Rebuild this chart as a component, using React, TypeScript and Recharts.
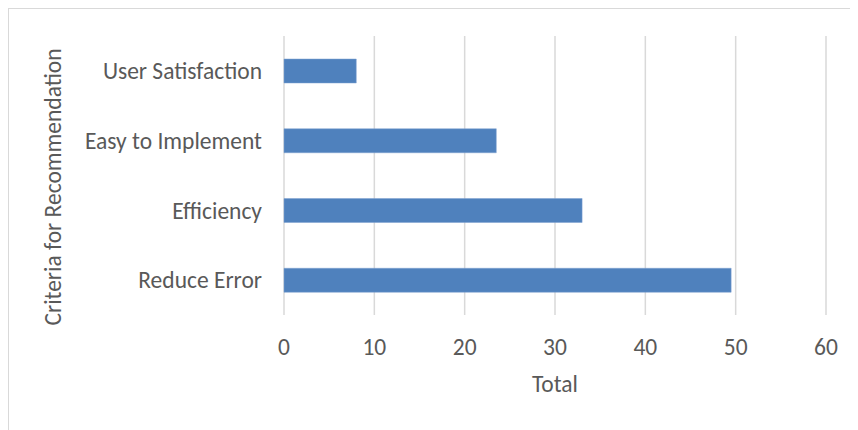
import React from 'react';
import { BarChart, Bar, XAxis, YAxis, CartesianGrid, Label } from 'recharts';

const categories: string[] = ['User Satisfaction', 'Easy to Implement', 'Efficiency', 'Reduce Error'];
const totals: number[] = [8, 23.5, 33, 49.5];
const xTicks: number[] = [0, 10, 20, 30, 40, 50, 60];
const xTitle = 'Total';
const yTitle = 'Criteria for Recommendation';

const data = categories.map((name, i) => ({ name, total: totals[i] }));

const FONT = 'Carlito, Calibri, Lato, sans-serif';
const TEXT = '#595959';
const FS = 23.5;

export default function App() {
  return (
    <div style={{ position: 'relative', width: 850, height: 422 }}>
      <div
        style={{
          position: 'absolute',
          left: -1,
          top: -1,
          width: 851,
          height: 423,
          borderLeft: '2px solid #d9d9d9',
          borderTop: '2px solid #d9d9d9',
          boxSizing: 'border-box',
          pointerEvents: 'none',
        }}
      />
      <BarChart
        width={850}
        height={422}
        data={data}
        layout="vertical"
        margin={{ top: 28, right: 32, left: 0, bottom: 0 }}
        style={{ fontFamily: FONT }}
      >
        <CartesianGrid horizontal={false} vertical={true} stroke="#d9d9d9" strokeWidth={1.5} />
        <XAxis
          type="number"
          domain={[0, 60]}
          ticks={xTicks}
          axisLine={false}
          tickLine={false}
          tickSize={0}
          tickMargin={23}
          height={115}
          interval={0}
          tick={{ fill: TEXT, fontSize: FS, fontFamily: FONT }}
        >
          <Label
            content={() => (
              <text
                x={547}
                y={376}
                textAnchor="middle"
                dominantBaseline="central"
                fill={TEXT}
                fontSize={FS}
                fontFamily={FONT}
              >
                {xTitle}
              </text>
            )}
          />
        </XAxis>
        <YAxis
          type="category"
          dataKey="name"
          width={276}
          axisLine={false}
          tickLine={false}
          tickSize={0}
          tickMargin={22}
          interval={0}
          tick={{ fill: TEXT, fontSize: FS, fontFamily: FONT }}
        >
          <Label
            content={() => (
              <text
                x={45}
                y={179}
                transform="rotate(-90 45 179)"
                textAnchor="middle"
                dominantBaseline="central"
                fill={TEXT}
                fontSize={FS}
                fontFamily={FONT}
              >
                {yTitle}
              </text>
            )}
          />
        </YAxis>
        <Bar dataKey="total" fill="#4f81bd" stroke="#7ea0d0" strokeWidth={0.5} barSize={24} isAnimationActive={false} />
      </BarChart>
    </div>
  );
}
